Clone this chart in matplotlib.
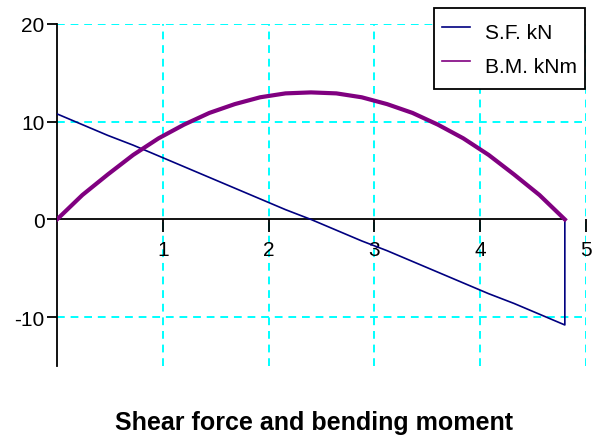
import matplotlib
matplotlib.use('Agg')
import matplotlib.pyplot as plt
from matplotlib.lines import Line2D

plt.rcParams['font.family'] = ['Liberation Sans', 'DejaVu Sans']
plt.rcParams['axes.unicode_minus'] = False

# positions along the beam (m)
x_pos = [0, 0.24, 0.48, 0.72, 0.96, 1.2, 1.44, 1.68, 1.92, 2.16, 2.4,
         2.64, 2.88, 3.12, 3.36, 3.6, 3.84, 4.08, 4.32, 4.56, 4.8]
# shear force (kN), closes back to zero at the right support
shear = [10.8, 9.7, 8.6, 7.6, 6.5, 5.4, 4.3, 3.2, 2.1, 1.0, 0.0,
         -1.1, -2.2, -3.2, -4.3, -5.4, -6.5, -7.6, -8.6, -9.7, -10.8]
shear_end = 0.0
# bending moment (kNm)
moment = [0, 2.5, 4.6, 6.6, 8.3, 9.7, 10.9, 11.8, 12.5, 12.9, 13.0,
          12.9, 12.5, 11.8, 10.9, 9.7, 8.3, 6.6, 4.6, 2.5, 0]

x_ticks = [1, 2, 3, 4, 5]
y_ticks = [-10, 0, 10, 20]
series_names = ['S.F. kN', 'B.M. kNm']
title = 'Shear force and bending moment'

sf_color = '#000080'
bm_color = '#800080'

fig = plt.figure(figsize=(6.01, 4.39), dpi=100)
ax = fig.add_axes([57 / 601, 1 - 367 / 439, 529 / 601, 342 / 439])

ax.plot(x_pos + [x_pos[-1]], shear + [shear_end], color=sf_color, lw=1.2, zorder=3)
ax.plot(x_pos, moment, color=bm_color, lw=3.0, zorder=3)

ax.set_xlim(0, 5)
ax.set_ylim(-15, 20)
ax.set_xticks(x_ticks)
ax.set_yticks(y_ticks)
ax.set_yticklabels([str(v) for v in y_ticks])

ax.spines['top'].set_visible(False)
ax.spines['right'].set_visible(False)
ax.spines['bottom'].set_position(('data', 0))
ax.spines['bottom'].set_bounds(0, x_pos[-1])
for s in ['left', 'bottom']:
    ax.spines[s].set_linewidth(1.3)
    ax.spines[s].set_zorder(2)

ax.tick_params(axis='x', length=9, width=1.3, pad=6, labelsize=15)
ax.tick_params(axis='y', length=7.5, width=1.3, pad=1.5, labelsize=15)

ax.grid(True, color='#00FFFF', linestyle=(0, (4, 3)), linewidth=1.4, zorder=1)
for tick_val, gl in zip(ax.get_yticks(), ax.yaxis.get_gridlines()):
    if tick_val == 0:
        gl.set_visible(False)

handles = [Line2D([], [], color=sf_color, lw=1.2),
           Line2D([], [], color=bm_color, lw=1.2)]
leg = fig.legend(handles, series_names, loc='upper right',
                 bbox_to_anchor=(585 / 601, 1 - 9 / 439),
                 fontsize=15, frameon=True, fancybox=False, framealpha=1,
                 edgecolor='black', borderpad=0.4, handlelength=1.35,
                 handleheight=1.82, handletextpad=0.7, labelspacing=0.22,
                 borderaxespad=0)
leg.get_frame().set_linewidth(1.3)

fig.text(314 / 601, 1 - 430 / 439, title, ha='center', va='baseline',
         fontsize=18, fontweight='bold')

fig.savefig('out.png', dpi=100)
